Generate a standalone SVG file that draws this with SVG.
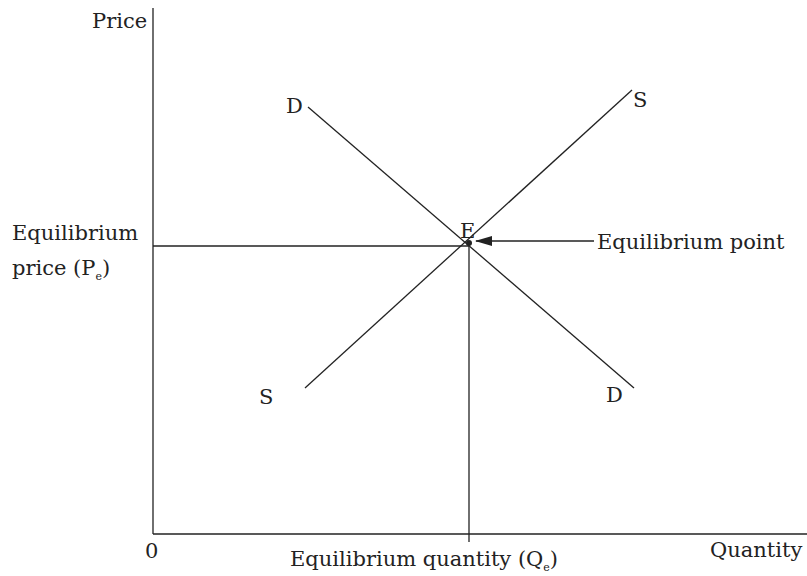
<svg xmlns="http://www.w3.org/2000/svg" width="807" height="576" viewBox="0 0 807 576">
<style>
text{font-family:"DejaVu Serif","Liberation Serif",serif;font-size:21px;fill:#222}
.ln{stroke:#222;stroke-width:1.3;fill:none}
.sub{font-size:11px}
</style>
<defs>
<marker id="ah" viewBox="0 0 17 10" refX="16" refY="5" markerWidth="17" markerHeight="10" markerUnits="userSpaceOnUse" orient="auto">
<path d="M0,0 L17,5 L0,10 Z" fill="#222"/>
</marker>
</defs>
<rect width="807" height="576" fill="#fff"/>
<g id="connectors">
<line class="ln" x1="153" y1="8" x2="153" y2="534"/>
<line class="ln" x1="153" y1="534" x2="807" y2="534"/>
<line class="ln" x1="153" y1="246" x2="469" y2="246"/>
<line class="ln" x1="469" y1="244" x2="469" y2="542"/>
<line class="ln" x1="308" y1="107" x2="634" y2="388"/>
<line class="ln" x1="305" y1="388" x2="632" y2="90"/>
<line class="ln" x1="594" y1="241" x2="476" y2="241" marker-end="url(#ah)"/>
</g>
<g id="point-E">
<circle cx="469" cy="243" r="3" fill="#222"/>
<text x="460" y="238">E</text>
</g>
<g id="label-price"><text x="92" y="28">Price</text></g>
<g id="label-D-top"><text x="286" y="113">D</text></g>
<g id="label-S-top"><text x="633" y="107">S</text></g>
<g id="label-S-bottom"><text x="259" y="404">S</text></g>
<g id="label-D-bottom"><text x="606" y="402">D</text></g>
<g id="label-eq-point"><text x="597" y="249">Equilibrium point</text></g>
<g id="label-eq-price">
<text x="12" y="240">Equilibrium</text>
<text x="12" y="275">price (P<tspan class="sub" dy="5">e</tspan><tspan dy="-5">)</tspan></text>
</g>
<g id="label-origin"><text x="145" y="558">0</text></g>
<g id="label-eq-qty"><text x="290" y="566">Equilibrium quantity (Q<tspan class="sub" dy="5">e</tspan><tspan dy="-5">)</tspan></text></g>
<g id="label-quantity"><text x="710" y="557">Quantity</text></g>
</svg>
